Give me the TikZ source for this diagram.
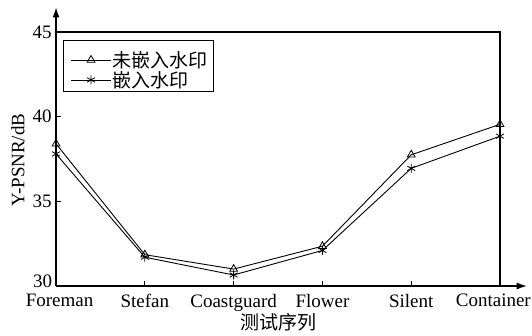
\documentclass[tikz,border=0pt]{standalone}
\usepackage{fontspec}
\setmainfont{Liberation Serif}
\newfontfamily\cjk{Noto Sans CJK SC}
\usetikzlibrary{arrows.meta}
\usetikzlibrary{plotmarks}
\usetikzlibrary{positioning}
\tikzset{>=latex}
\tikzstyle{lbl} = [draw=none, align=center, inner sep = 1, font=\fontsize{19}{19}\selectfont]
\tikzstyle{axis} = [line width=1.1pt]
\tikzstyle{series} = [line width=0.9pt, black, mark options={solid, line width=0.8pt}]

\begin{document}
\begin{tikzpicture}[x=88.8pt, y=16.93pt, shift={(0,-30)}]
\useasboundingbox (-0.631, 27.047) rectangle (5.360, 46.893);
% axes and frame
\draw [axis, -{Latex[length=10pt, width=7pt]}] (0, 30) -- (0, 46.45);
\draw [axis, -{Latex[length=10pt, width=7pt]}] (0, 30) -- (5.30, 30);
\draw [axis] (0, 45) -- (5, 45) -- (5, 30);
% ticks
\foreach \v in {35, 40} \draw [line width=0.8pt] (0, \v) -- ++(5pt, 0);
\foreach \i in {1, ..., 4} \draw [line width=0.8pt] (\i, 30) -- ++(0, 5pt);
% tick labels
\node [lbl, anchor = east] (y30) at (-0.03, 30.3) {30};
\foreach \v in {35, 40, 45} \node [lbl, anchor = east] (y\v) at (-0.035, \v) {\v};
\node [lbl, anchor = north] (Foreman) at (0.04, 29.6) {Foreman};
\node [lbl, anchor = north] (Stefan) at (1, 29.6) {Stefan};
\node [lbl, anchor = north] (Coastguard) at (2, 29.6) {Coastguard};
\node [lbl, anchor = north] (Flower) at (3, 29.6) {Flower};
\node [lbl, anchor = north] (Silent) at (4, 29.6) {Silent};
\node [lbl, anchor = north east] (Container) at (5.36, 29.6) {Container};
\node [lbl, font=\fontsize{19}{19}\selectfont\cjk] (xlab) at (2.5, 27.87) {测试序列};
\node [lbl, rotate = 90] (ylab) at (-0.43, 37.44) {Y-PSNR/dB};
% data
\draw [series, mark = triangle, mark size = 4.5pt] plot coordinates {(0, 38.4) (1, 31.85) (2, 31.0) (3, 32.35) (4, 37.75) (5, 39.55)};
\draw [series, mark = asterisk, mark size = 4.5pt] plot coordinates {(0, 37.8) (1, 31.7) (2, 30.65) (3, 32.1) (4, 36.95) (5, 38.85)};
% legend
\draw [line width=1pt] (0.079, 41.46) rectangle (1.768, 44.53);
\draw [series, mark = triangle, mark size = 4.5pt, mark indices = {2}] plot coordinates {(0.169, 43.35) (0.394, 43.35) (0.619, 43.35)};
\draw [series, mark = asterisk, mark size = 4.5pt, mark indices = {2}] plot coordinates {(0.169, 42.17) (0.394, 42.17) (0.619, 42.17)};
\node [lbl, anchor = west, font=\fontsize{19}{19}\selectfont\cjk] (leg1) at (0.625, 43.35) {未嵌入水印};
\node [lbl, anchor = west, font=\fontsize{19}{19}\selectfont\cjk] (leg2) at (0.625, 42.17) {嵌入水印};
\end{tikzpicture}
\end{document}
